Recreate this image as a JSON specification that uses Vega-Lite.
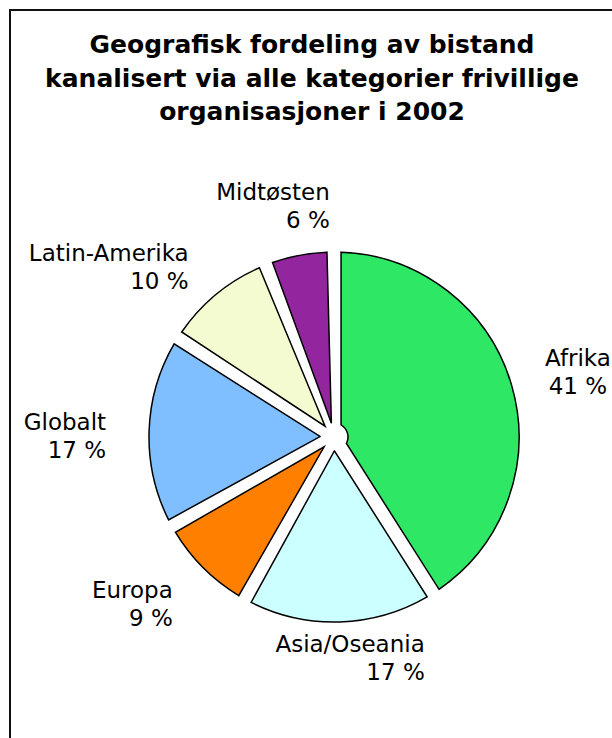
{
  "$schema": "https://vega.github.io/schema/vega-lite/v6.json",
  "width": 648,
  "height": 854,
  "autosize": "none",
  "padding": {"left": 10, "top": 10, "right": -46, "bottom": -126},
  "background": "white",
  "view": {"stroke": "#111111", "strokeWidth": 2},
  "config": {
    "view": {"stroke": "#111111", "strokeWidth": 2},
    "font": "DejaVu Sans"
  },
  "title": {
    "text": ["Geografisk fordeling av bistand", "kanalisert via alle kategorier frivillige", "organisasjoner i 2002"],
    "font": "DejaVu Sans",
    "fontSize": 25,
    "fontWeight": "bold",
    "lineHeight": 33.5,
    "color": "black",
    "anchor": "middle",
    "baseline": "top",
    "offset": -115,
    "dx": -22
  },
  "data": {
    "values": [
      {"region": "Afrika", "pct": 41},
      {"region": "Asia/Oseania", "pct": 17},
      {"region": "Europa", "pct": 9},
      {"region": "Globalt", "pct": 17},
      {"region": "Latin-Amerika", "pct": 10},
      {"region": "Midtøsten", "pct": 6}
    ]
  },
  "transform": [
    {"calculate": "[datum.region, datum.pct + ' %']", "as": "label"}
  ],
  "encoding": {
    "theta": {"field": "pct", "type": "quantitative", "stack": true}
  },
  "layer": [
    {
      "mark": {"type": "arc", "outerRadius": 185, "innerRadius": 14, "padAngle": 0.076, "stroke": "black", "strokeWidth": 1.5},
      "encoding": {
        "color": {
          "field": "region",
          "type": "nominal",
          "scale": {
            "domain": ["Afrika", "Asia/Oseania", "Europa", "Globalt", "Latin-Amerika", "Midtøsten"],
            "range": ["#2EE865", "#CCFFFF", "#FF8000", "#80BFFF", "#F5FBD0", "#93259F"]
          },
          "legend": null
        }
      }
    },
    {
      "mark": {"type": "text", "radius": 228, "align": "right", "baseline": "alphabetic", "fontSize": 23, "lineHeight": 28, "font": "DejaVu Sans", "fill": "black"},
      "encoding": {
        "detail": {"field": "region", "type": "nominal"},
        "text": {"condition": {"test": "indexof(['Latin-Amerika', 'Globalt', 'Europa'], datum.region) >= 0", "field": "label"}, "value": ""}
      }
    },
    {
      "mark": {"type": "text", "radius": 215, "dx": 84, "align": "right", "baseline": "alphabetic", "fontSize": 23, "lineHeight": 28, "font": "DejaVu Sans", "fill": "black"},
      "encoding": {
        "detail": {"field": "region", "type": "nominal"},
        "text": {"condition": {"test": "datum.region === 'Asia/Oseania'", "field": "label"}, "value": ""}
      }
    },
    {
      "mark": {"type": "text", "radius": 254, "align": "center", "baseline": "alphabetic", "fontSize": 23, "lineHeight": 28, "font": "DejaVu Sans", "fill": "black"},
      "encoding": {
        "detail": {"field": "region", "type": "nominal"},
        "text": {"condition": {"test": "datum.region === 'Afrika'", "field": "label"}, "value": ""}
      }
    },
    {
      "mark": {"type": "text", "radius": 241, "dx": 41, "align": "right", "baseline": "alphabetic", "fontSize": 23, "lineHeight": 28, "font": "DejaVu Sans", "fill": "black"},
      "encoding": {
        "detail": {"field": "region", "type": "nominal"},
        "text": {"condition": {"test": "datum.region === 'Midtøsten'", "field": "label"}, "value": ""}
      }
    }
  ]
}
